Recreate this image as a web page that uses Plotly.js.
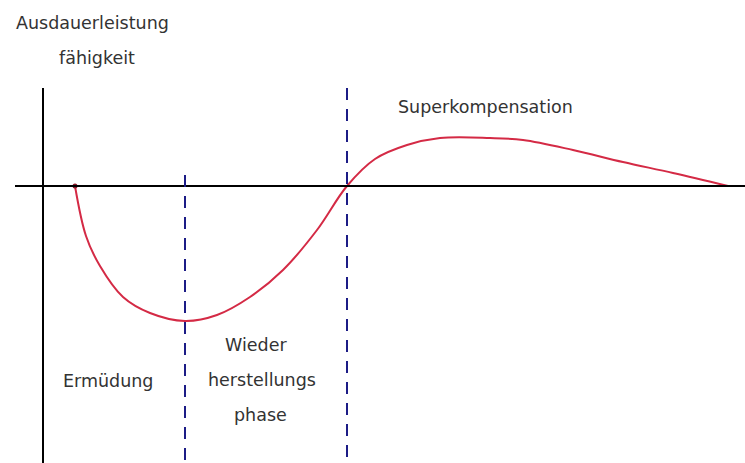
<!DOCTYPE html>
<html>
<head>
<meta charset="utf-8">
<script src="https://cdn.plot.ly/plotly-3.0.1.min.js"></script>
<style>
  html, body { margin: 0; padding: 0; background: #fff; }
  #grafica { width: 745px; height: 463px; }
</style>
</head>
<body>
<div id="grafica"></div>
<script>
// Zeit (x) und Leistungsfähigkeit relativ zum Ausgangsniveau (y)
const zeit = [75, 86, 100, 123, 150, 185, 217, 250, 283, 317, 347, 375, 407, 440, 490, 523, 573, 623, 673, 728];
const leistung = [0, -50, -80, -111, -127, -135, -129, -111, -84, -44, 0, 27, 41, 48, 48, 46, 36, 24, 13, 0];

// Phasengrenzen (gestrichelte Linien)
const grenzeX = [185, 347];
const grenzeOben = [11, 98];
const grenzeUnten = -277;

const beschriftungen = ["Ausdauerleistung", "fähigkeit", "Superkompensation", "Ermüdung", "Wieder", "herstellungs", "phase"];
const beschriftungX = [92, 97, 485, 108, 256, 262, 260];
const beschriftungY = [163, 128, 79, -195, -159, -194, -229];

function zeichnen() {
    const kurve = {
        x: zeit,
        y: leistung,
        type: 'scatter',
        mode: 'lines',
        line: { color: '#d42a45', width: 2, shape: 'spline', smoothing: 1 },
        hoverinfo: 'skip'
    };

    const startpunkt = {
        x: [zeit[0]],
        y: [leistung[0]],
        type: 'scatter',
        mode: 'markers',
        marker: { color: '#8a1a2a', size: 5 },
        hoverinfo: 'skip'
    };

    const shapes = [
        // Achsen
        { type: 'line', x0: 15, x1: 745, y0: 0, y1: 0, line: { color: '#000', width: 2 } },
        { type: 'line', x0: 43, x1: 43, y0: 98, y1: grenzeUnten, line: { color: '#000', width: 2 } }
    ];
    grenzeX.forEach((gx, i) => {
        shapes.push({
            type: 'line', x0: gx, x1: gx, y0: grenzeOben[i], y1: grenzeUnten,
            line: { color: '#1c1c86', width: 2, dash: '12px,9px' }
        });
    });

    const annotations = beschriftungen.map((t, i) => ({
        x: beschriftungX[i],
        y: beschriftungY[i],
        text: t,
        showarrow: false,
        font: { family: 'DejaVu Sans, sans-serif', size: 17.5, color: '#333' }
    }));

    const layout = {
        width: 745,
        height: 463,
        margin: { l: 0, r: 0, t: 0, b: 0 },
        paper_bgcolor: '#fff',
        plot_bgcolor: '#fff',
        showlegend: false,
        xaxis: { range: [0, 745], visible: false, fixedrange: true },
        yaxis: { range: [-277, 186], visible: false, fixedrange: true },
        shapes: shapes,
        annotations: annotations
    };

    Plotly.newPlot("grafica", [kurve, startpunkt], layout, { staticPlot: true });
}

zeichnen();
</script>
</body>
</html>
